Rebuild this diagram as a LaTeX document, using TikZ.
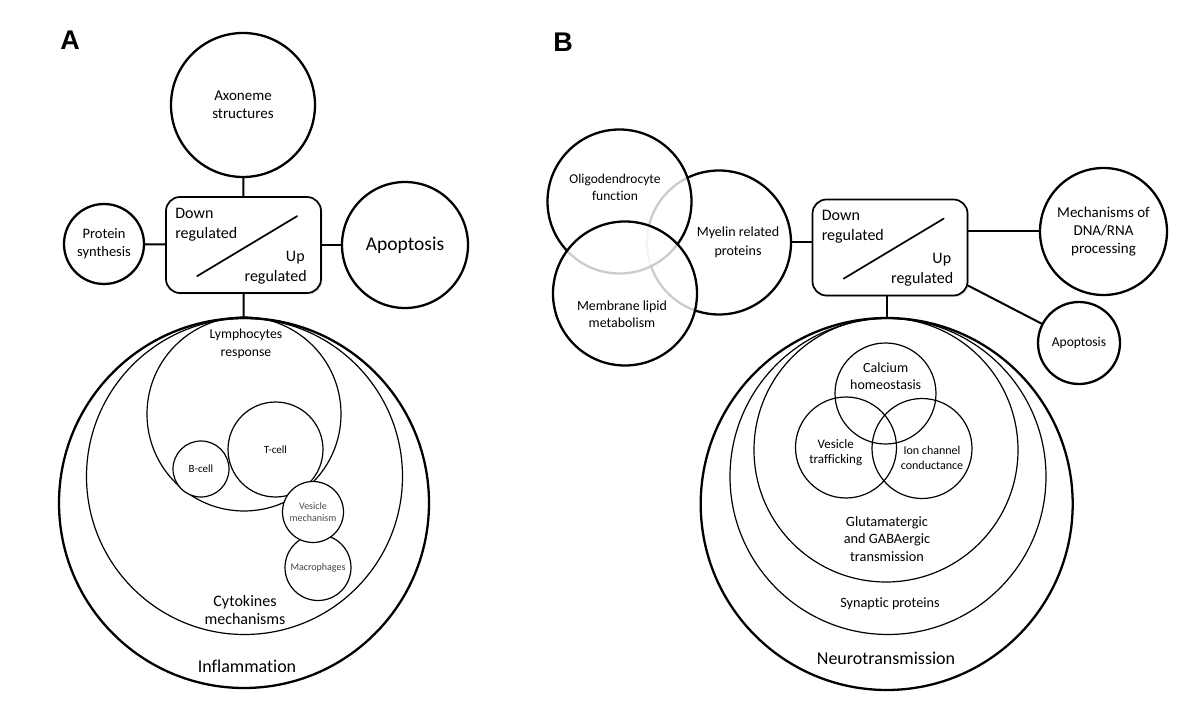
\documentclass[tikz,border=0pt]{standalone}
\usepackage{fontspec}
\setmainfont{Carlito}[Ligatures=NoCommon]
\newfontfamily\panelfont{Liberation Sans}
\usetikzlibrary{shadows}
\newcommand{\fsz}[2]{\fontsize{#1}{#2}\selectfont}
\begin{document}
\begin{tikzpicture}[x=1pt,y=-1pt,line join=round,line cap=round]

		\tikzset{bubble/.style={circle,draw,line width=2.3pt,inner sep=0pt,align=center},
			ring/.style={circle,draw,line width=2.3pt,inner sep=0pt},
			thinring/.style={circle,draw,line width=1.2pt,inner sep=0pt,align=center},
			inner/.style={thinring,fill=white},
			venn/.style={circle,draw,line width=2.3pt,inner sep=0pt,fill=white,fill opacity=0.8,text opacity=1},
			hub/.style={rectangle,draw,line width=1.7pt,rounded corners=14pt,minimum width=155pt,minimum height=96pt,fill=white,
				drop shadow={opacity=0.25,shadow xshift=1.5pt,shadow yshift=-1.5pt}},
			conn/.style={line width=2pt},
			txt/.style={align=center,inner sep=0pt}}

		\fill[white] (0,0) rectangle (1200,727);
		\useasboundingbox (0,0) rectangle (1200,727);

		\node[font=\panelfont\bfseries\fsz{27}{30}] at (70,40) {A};
		\node[font=\panelfont\bfseries\fsz{27}{30}] at (563,42) {B};

		% panel A
		\node[bubble,minimum size=144pt,font=\fsz{15}{18.3}] (axon) at (243,105) {Axoneme\\structures};
		\node[hub] (hubA) at (243.5,245) {};
		\node[bubble,minimum size=80pt,font=\fsz{14.5}{18}] (prot) at (104,244) {Protein\\synthesis};
		\node[bubble,minimum size=126pt,font=\fsz{19.5}{23}] (apoA) at (405,245) {Apoptosis};
		\node[ring,minimum size=370pt] (infl) at (244,503) {};
		\node[thinring,minimum size=316pt] (cyto) at (244.5,476.5) {};
		\node[thinring,minimum size=194pt] (lymph) at (244,414) {};
		\node[inner,minimum size=95pt,font=\fsz{11}{13}] (tcell) at (275.5,449.5) {T-cell};
		\node[inner,minimum size=56pt,font=\fsz{11}{13}] (bcell) at (201,469) {B-cell};
		\node[inner,minimum size=66pt,font=\fsz{10}{12},text=black!75] (macro) at (318,567.5) {Macrophages};
		\node[inner,minimum size=61pt,font=\fsz{10}{12.3},text=black!70] (vesA) at (313,512) {Vesicle\\mechanism};

		\node[txt,font=\fsz{13.7}{18.3}] at (246,344) {Lymphocytes\\response};
		\node[txt,font=\fsz{16}{18.3}] at (245,610) {Cytokines\\mechanisms};
		\node[txt,font=\fsz{18}{21}] at (247,666) {Inflammation};

		\draw[conn] (axon) -- (hubA);
		\draw[conn] (prot) -- (hubA);
		\draw[conn] (hubA) -- (apoA);
		\draw[conn] (hubA) -- (infl);

		% panel B
		\node[venn,minimum size=144pt] (myel) at (719,242.5) {};
		\node[venn,minimum size=144pt] (oligo) at (619.5,201.5) {};
		\node[venn,minimum size=144pt] (memb) at (625,293.5) {};
		\node[txt,font=\fsz{13.5}{16.7}] at (615,187.5) {Oligodendrocyte\\function};
		\node[txt,font=\fsz{14}{19}] at (738,242.5) {Myelin related\\proteins};
		\node[txt,font=\fsz{13.9}{17}] at (622,314.5) {Membrane lipid\\metabolism};

		\node[hub] (hubB) at (890,247.5) {};
		\node[bubble,minimum size=127pt,font=\fsz{15}{17.7}] (mech) at (1103.5,231.5) {Mechanisms of\\DNA/RNA\\processing};
		\node[bubble,minimum size=82pt,font=\fsz{13.5}{16}] (apoB) at (1079,343) {Apoptosis};

		\node[ring,minimum size=372pt] (neuro) at (886.7,504) {};
		\node[thinring,minimum size=316pt] (syn) at (888,476.5) {};
		\node[thinring,minimum size=264pt] (glut) at (886,450) {};
		\node[thinring,minimum size=101pt] (calc) at (885.5,393.5) {};
		\node[thinring,minimum size=101pt] (vesB) at (846,447.5) {};
		\node[thinring,minimum size=100pt] (ion) at (922,448.5) {};

		\node[txt,font=\fsz{14}{16.7}] at (885.7,376.5) {Calcium\\homeostasis};
		\node[txt,font=\fsz{13}{15}] at (835.7,453) {Vesicle\\trafficking};
		\node[txt,font=\fsz{12}{15.7}] at (932,458) {Ion channel\\conductance};
		\node[txt,font=\fsz{14.3}{17.4}] at (887,539) {Glutamatergic\\and GABAergic\\transmission};
		\node[txt,font=\fsz{14.2}{16}] at (890,604) {Synaptic proteins};
		\node[txt,font=\fsz{18}{21}] at (886,658) {Neurotransmission};

		\draw[conn] (myel.east) -- (myel.east -| hubB.west);
		\draw[conn] (hubB.east |- mech.west) -- (mech.west);
		\draw[conn] (hubB.-26) -- (apoB);
		\draw[conn] (hubB.south -| neuro.north) -- (neuro.north);

		\foreach \h in {hubA,hubB}{
			\node[anchor=base west,inner sep=0pt,font=\fsz{16}{20}] at ([shift={(10,22)}]\h.north west) {Down};
			\node[anchor=base west,inner sep=0pt,font=\fsz{16}{20}] at ([shift={(10,42)}]\h.north west) {regulated};
			\node[anchor=base east,inner sep=0pt,font=\fsz{16}{20}] at ([shift={(-17,65)}]\h.north east) {Up};
			\node[anchor=base east,inner sep=0pt,font=\fsz{16}{20}] at ([shift={(-15,85)}]\h.north east) {regulated};
			\draw[line width=1.7pt] ([shift={(32,80)}]\h.north west) -- ([shift={(132,20)}]\h.north west);
		}
		\end{tikzpicture}
\end{document}
